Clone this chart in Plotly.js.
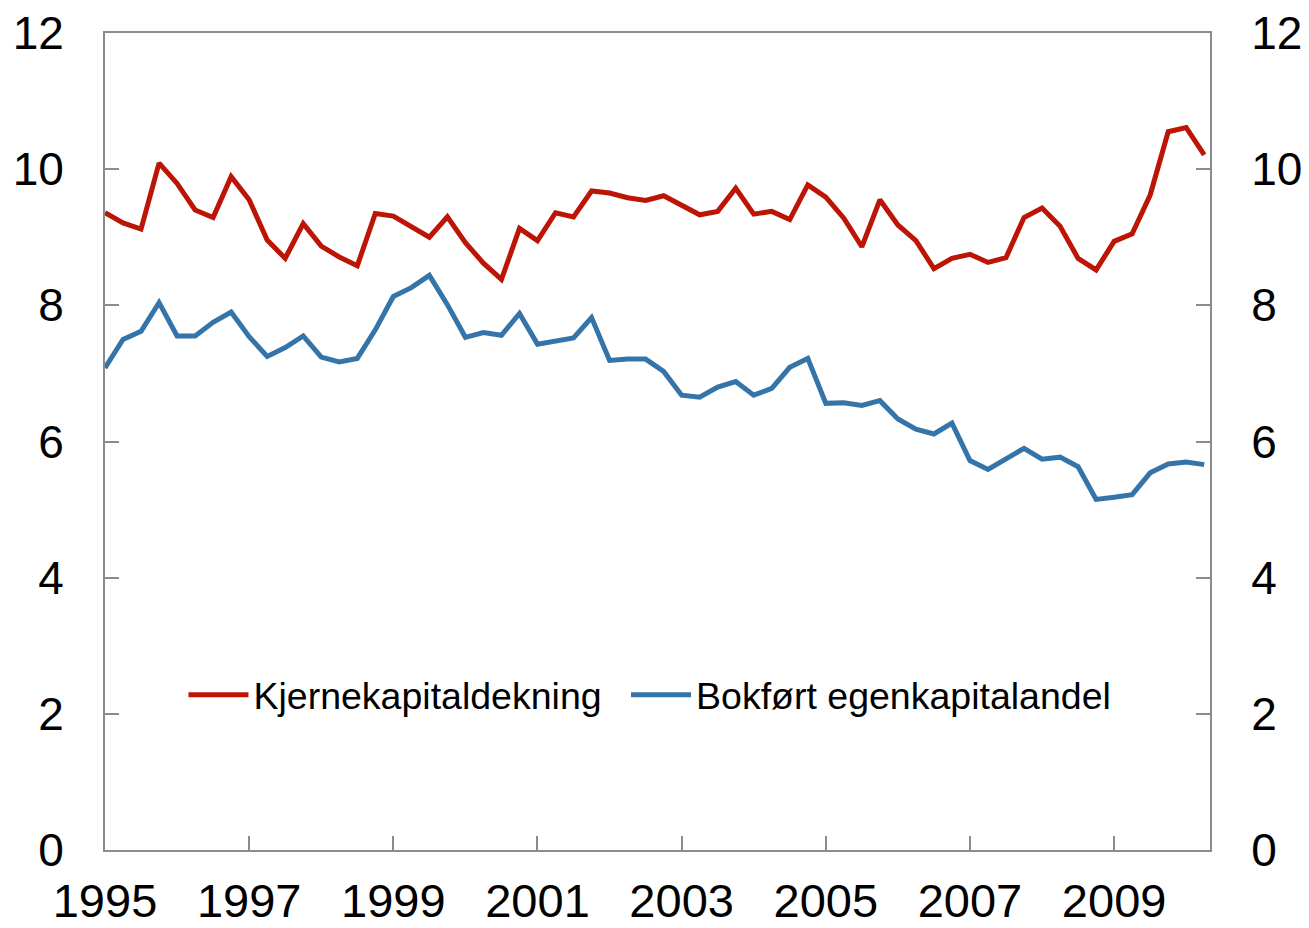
<!DOCTYPE html>
<html>
<head>
<meta charset="utf-8">
<script src="https://cdn.plot.ly/plotly-3.0.1.min.js"></script>
<style>html,body{margin:0;padding:0;background:#fff;}#chart{width:1309px;height:928px;}</style>
</head>
<body>
<div id="chart"></div>
<script>
// Quarterly data, 1995Q1 - 2010Q2
const startYear = 1995;
const seriesNames = ["Kjernekapitaldekning", "Bokført egenkapitalandel"];
const kjernekapital = [
  9.36, 9.21, 9.12, 10.09, 9.79, 9.40, 9.29, 9.89,
  9.55, 8.96, 8.69, 9.20, 8.87, 8.71, 8.58, 9.35,
  9.31, 9.16, 9.00, 9.30, 8.92, 8.62, 8.38, 9.13,
  8.95, 9.36, 9.30, 9.68, 9.65, 9.58, 9.54, 9.61,
  9.47, 9.33, 9.38, 9.72, 9.34, 9.38, 9.26, 9.77,
  9.59, 9.28, 8.86, 9.55, 9.18, 8.95, 8.54, 8.69,
  8.75, 8.63, 8.70, 9.29, 9.43, 9.16, 8.69, 8.52,
  8.94, 9.05, 9.62, 10.55, 10.61, 10.21
];
const egenkapital = [
  7.08, 7.50, 7.62, 8.04, 7.55, 7.55, 7.75, 7.90,
  7.54, 7.25, 7.38, 7.55, 7.24, 7.17, 7.22, 7.64,
  8.13, 8.26, 8.44, 8.01, 7.53, 7.60, 7.56, 7.88,
  7.43, 7.48, 7.52, 7.82, 7.19, 7.21, 7.21, 7.03,
  6.68, 6.65, 6.80, 6.88, 6.68, 6.78, 7.09, 7.22,
  6.56, 6.57, 6.53, 6.60, 6.33, 6.18, 6.11, 6.27,
  5.72, 5.59, 5.74, 5.90, 5.74, 5.77, 5.63, 5.15,
  5.18, 5.22, 5.54, 5.67, 5.70, 5.66
];
const xTickVals = [1995, 1997, 1999, 2001, 2003, 2005, 2007, 2009];
const xTickText = ["1995", "1997", "1999", "2001", "2003", "2005", "2007", "2009"];
const yTickVals = [0, 2, 4, 6, 8, 10, 12];

const xs = kjernekapital.map((_, i) => startYear + i / 4);

const axisColor = "#8c8c8c";
const family = "Liberation Sans, Arial, sans-serif";
const yFont = {family: family, size: 46, color: "#000"};
const xFont = {family: family, size: 47, color: "#000"};
const legendFont = {family: family, size: 37.5, color: "#000"};

const traces = [
  {x: xs, y: kjernekapital, name: seriesNames[0], type: "scatter", mode: "lines",
   line: {color: "#BC1405", width: 5}, yaxis: "y", legend: "legend"},
  {x: xs, y: egenkapital, name: seriesNames[1], type: "scatter", mode: "lines",
   line: {color: "#3574A9", width: 5}, yaxis: "y2", legend: "legend2"}
];

const yCommon = {
  range: [0, 12], tickvals: yTickVals, ticks: "inside", ticklen: 14, tickwidth: 2,
  tickcolor: axisColor, showline: true, linecolor: axisColor, linewidth: 2,
  showgrid: false, zeroline: false, tickfont: yFont, ticklabelstandoff: 30
};

const legendCommon = {orientation: "h", y: 0.19, xanchor: "left", yanchor: "middle",
  font: legendFont, bgcolor: "rgba(0,0,0,0)", itemwidth: 60};

const layout = {
  width: 1309, height: 928,
  margin: {l: 105, r: 99, t: 33, b: 78},
  paper_bgcolor: "#fff", plot_bgcolor: "#fff",
  font: yFont,
  showlegend: true,
  legend: Object.assign({}, legendCommon, {x: 0.071}),
  legend2: Object.assign({}, legendCommon, {x: 0.4715}),
  xaxis: {range: [1995, 2010.33], tickvals: xTickVals, ticktext: xTickText,
          ticks: "inside", ticklen: 14, tickwidth: 2, tickcolor: axisColor,
          showline: true, mirror: true, linecolor: axisColor, linewidth: 2, showgrid: false,
          zeroline: false, tickfont: xFont, ticklabelstandoff: 9},
  yaxis: Object.assign({}, yCommon, {side: "left"}),
  yaxis2: Object.assign({}, yCommon, {side: "right", overlaying: "y", anchor: "x"})
};

Plotly.newPlot("chart", traces, layout, {staticPlot: true});
</script>
</body>
</html>
